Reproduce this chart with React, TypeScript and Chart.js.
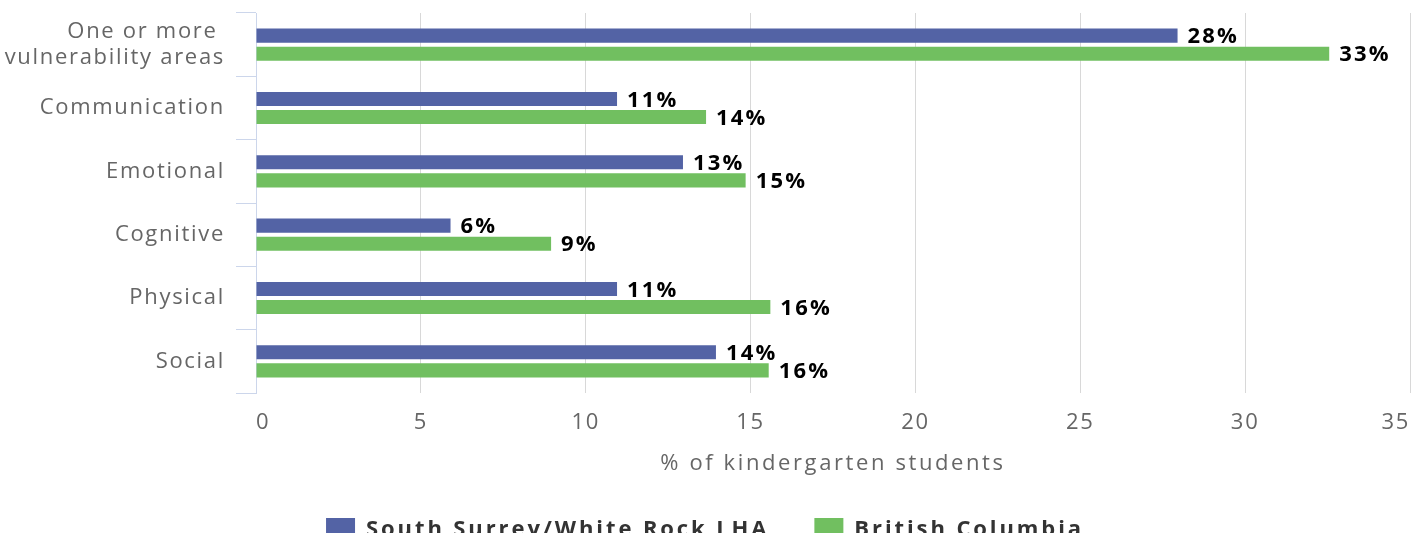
import React, { useEffect, useRef } from "react";
import { Chart, registerables } from "chart.js";

Chart.register(...registerables);

const categories: (string | string[])[] = [
  ["One or more ", "vulnerability areas"],
  "Communication",
  "Emotional",
  "Cognitive",
  "Physical",
  "Social",
];
const seriesNames = ["South Surrey/White Rock LHA", "British Columbia"];
const southSurrey = [27.95, 10.95, 12.95, 5.9, 10.95, 13.95];
const britishColumbia = [32.55, 13.65, 14.85, 8.95, 15.6, 15.55];
const xTicks = [0, 5, 10, 15, 20, 25, 30, 35];
const xTitle = "% of kindergarten students";

const FONT = "'Open Sans', sans-serif";
const BASE_SPACING = "1.7px";
const LEGEND_SPACING = "2.9px";
const TITLE_SPACING = "2.6px";

const spacingPlugin = {
  id: "spacing",
  beforeUpdate(chart: any) {
    chart.ctx.letterSpacing = BASE_SPACING;
  },
  beforeLayout(chart: any) {
    chart.ctx.letterSpacing = BASE_SPACING;
    const lg = chart.legend;
    if (lg && !lg._wrapped) {
      const of = lg.fit.bind(lg);
      const od = lg.draw.bind(lg);
      lg.fit = function () {
        const c = chart.ctx;
        c.letterSpacing = LEGEND_SPACING;
        of();
        c.letterSpacing = BASE_SPACING;
        this.height = 60;
      };
      lg.draw = function (area: any) {
        const c = chart.ctx;
        c.letterSpacing = LEGEND_SPACING;
        od(area);
        c.letterSpacing = BASE_SPACING;
      };
      lg._wrapped = true;
    }
  },
  afterLayout(chart: any) {
    const lg = chart.legend;
    if (lg) {
      lg.top = 473;
      lg.bottom = lg.top + lg.height;
    }
  },
  beforeDraw(chart: any) {
    chart.ctx.letterSpacing = BASE_SPACING;
    const sx = chart.scales.x;
    if (sx && !sx._titleWrapped) {
      const orig = sx.drawTitle.bind(sx);
      sx.drawTitle = function () {
        const c = chart.ctx;
        const prev = c.letterSpacing;
        c.letterSpacing = TITLE_SPACING;
        orig();
        c.letterSpacing = prev;
      };
      sx._titleWrapped = true;
    }
  },
};

const labelPlugin = {
  id: "barLabels",
  afterDatasetsDraw(chart: any) {
    const ctx = chart.ctx;
    ctx.save();
    ctx.letterSpacing = "2.2px";
    ctx.font = `bold 22px ${FONT}`;
    ctx.fillStyle = "#000";
    ctx.textAlign = "left";
    ctx.textBaseline = "middle";
    chart.data.datasets.forEach((ds: any, di: number) => {
      const meta = chart.getDatasetMeta(di);
      meta.data.forEach((el: any, i: number) => {
        const v = ds.data[i];
        ctx.fillText(`${Math.round(v)}%`, el.x + 10, el.y + 1.5);
      });
    });
    ctx.restore();
  },
};

export default function App() {
  const ref = useRef<HTMLCanvasElement>(null);
  useEffect(() => {
    if (!ref.current) return;
    const chart = new Chart(ref.current, {
      type: "bar",
      data: {
        labels: categories,
        datasets: [
          {
            label: seriesNames[0],
            data: southSurrey,
            backgroundColor: "#5363a5",
            categoryPercentage: 0.57,
            barPercentage: 0.78,
          },
          {
            label: seriesNames[1],
            data: britishColumbia,
            backgroundColor: "#71bf60",
            categoryPercentage: 0.57,
            barPercentage: 0.78,
          },
        ],
      },
      plugins: [spacingPlugin, labelPlugin],
      options: {
        indexAxis: "y",
        animation: false,
        responsive: true,
        maintainAspectRatio: false,
        layout: { padding: { top: 13, right: 3, left: 0, bottom: 0 } },
        plugins: {
          tooltip: { enabled: false },
          legend: {
            position: "bottom",
            labels: {
              boxWidth: 29,
              boxHeight: 24,
              padding: 45,
              color: "#333",
              font: { family: FONT, size: 22, weight: "bold" },
            },
          },
        },
        scales: {
          x: {
            min: 0,
            max: 35,
            afterBuildTicks(scale: any) {
              scale.ticks = xTicks.map((v) => ({ value: v }));
            },
            afterFit(scale: any) {
              scale.paddingLeft = 0;
              scale.paddingRight = 0;
            },
            grid: { color: "#d8d8d8", drawTicks: false },
            border: { display: false },
            ticks: {
              align: "inner",
              padding: 19,
              color: "#666",
              font: { family: FONT, size: 22, lineHeight: 1 },
            },
            title: {
              display: true,
              text: xTitle,
              color: "#666",
              font: { family: FONT, size: 22, lineHeight: 1 },
              padding: { top: 0, bottom: 7 },
            },
          },
          y: {
            afterFit(scale: any) {
              scale.width = 256;
              scale.paddingTop = 0;
              scale.paddingBottom = 0;
            },
            grid: {
              display: true,
              drawOnChartArea: false,
              drawTicks: true,
              tickLength: 20,
              color: "#ccd6eb",
              offset: true,
            },
            border: { display: true, color: "#ccd6eb" },
            ticks: {
              padding: 11,
              color: "#666",
              font: { family: FONT, size: 22, lineHeight: 1.2 },
            },
          },
        },
      },
    });
    return () => chart.destroy();
  }, []);
  return (
    <div style={{ position: "absolute", left: 0, top: 0, width: 1413, height: 542 }}>
      <canvas ref={ref} />
    </div>
  );
}
